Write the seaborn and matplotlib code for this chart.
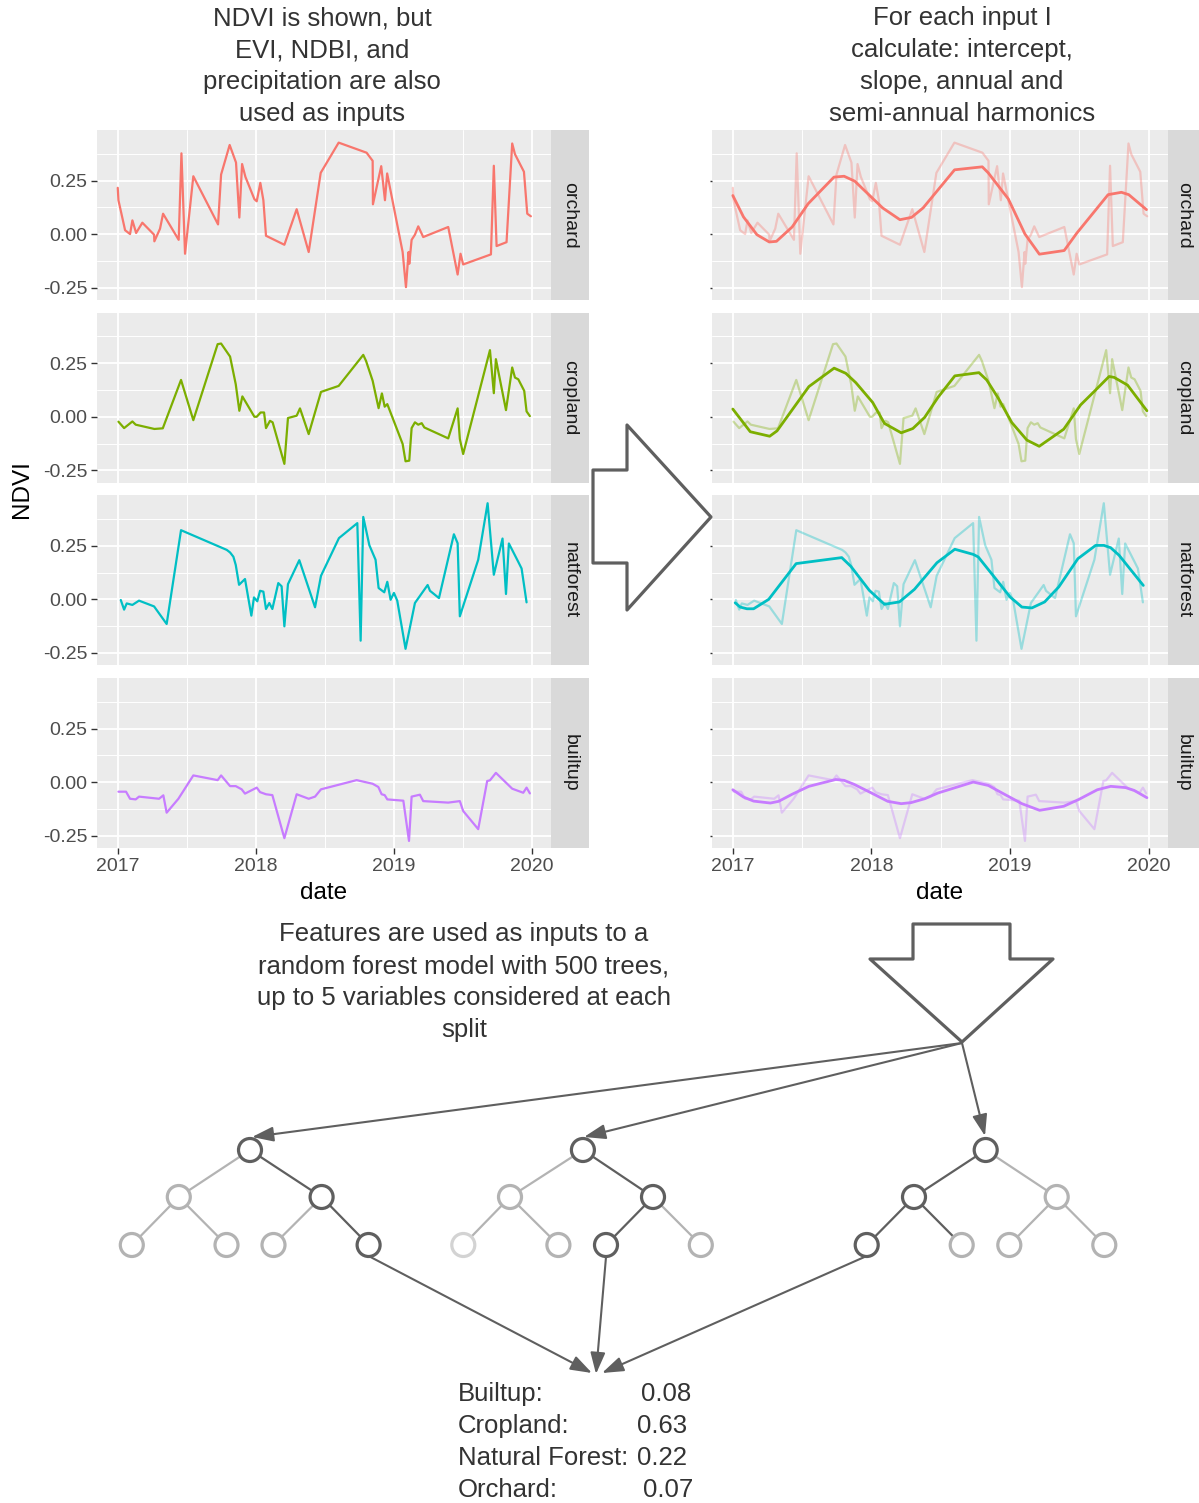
import numpy as np
import pandas as pd
import matplotlib
matplotlib.use("Agg")
import matplotlib.pyplot as plt
import seaborn as sns
from matplotlib.patches import Polygon, Circle, FancyArrowPatch
from matplotlib.lines import Line2D

# ---------------- data ----------------
classes = ["orchard", "cropland", "natforest", "builtup"]
class_colors = ["#F8766D", "#7CAE00", "#00BFC4", "#C77CFF"]

orchard_t = [2017.000, 2017.005, 2017.048, 2017.053, 2017.089, 2017.106, 2017.133, 2017.178, 2017.263, 2017.265,
             2017.306, 2017.328, 2017.441, 2017.461, 2017.487, 2017.547, 2017.726, 2017.748, 2017.810, 2017.856,
             2017.880, 2017.900, 2017.924, 2017.989, 2018.006, 2018.032, 2018.054, 2018.073, 2018.206, 2018.295,
             2018.382, 2018.469, 2018.599, 2018.801, 2018.845, 2018.847, 2018.907, 2018.934, 2018.950, 2019.062,
             2019.086, 2019.105, 2019.110, 2019.127, 2019.151, 2019.175, 2019.211, 2019.392, 2019.460, 2019.481,
             2019.500, 2019.701, 2019.722, 2019.742, 2019.814, 2019.855, 2019.875, 2019.940, 2019.964, 2019.990]
orchard_v = [0.216, 0.158, 0.033, 0.018, 0.000, 0.064, 0.005, 0.053, -0.003, -0.034,
             0.025, 0.095, -0.027, 0.377, -0.092, 0.270, 0.045, 0.278, 0.416, 0.334,
             0.077, 0.327, 0.267, 0.163, 0.153, 0.239, 0.158, -0.008, -0.050, 0.116,
             -0.084, 0.286, 0.427, 0.380, 0.342, 0.139, 0.317, 0.158, 0.283, -0.084,
             -0.248, -0.084, -0.139, -0.027, -0.003, 0.036, -0.014, 0.033, -0.189, -0.092,
             -0.142, -0.095, 0.319, -0.056, -0.038, 0.423, 0.373, 0.291, 0.095, 0.083]

cropland_t = [2017.005, 2017.046, 2017.106, 2017.130, 2017.265, 2017.326, 2017.458, 2017.547, 2017.723, 2017.748,
              2017.813, 2017.854, 2017.880, 2017.902, 2017.989, 2018.006, 2018.034, 2018.059, 2018.073, 2018.102,
              2018.121, 2018.206, 2018.232, 2018.295, 2018.319, 2018.382, 2018.471, 2018.599, 2018.777, 2018.797,
              2018.845, 2018.888, 2018.912, 2018.932, 2018.951, 2019.062, 2019.083, 2019.110, 2019.127, 2019.151,
              2019.175, 2019.200, 2019.219, 2019.392, 2019.460, 2019.476, 2019.500, 2019.694, 2019.722, 2019.737,
              2019.810, 2019.855, 2019.875, 2019.899, 2019.942, 2019.959, 2019.983]
cropland_v = [-0.023, -0.053, -0.022, -0.037, -0.057, -0.054, 0.172, -0.016, 0.339, 0.342,
              0.281, 0.152, 0.028, 0.095, 0.000, 0.000, 0.020, 0.020, -0.053, -0.019,
              -0.026, -0.220, -0.006, 0.005, 0.039, -0.081, 0.116, 0.144, 0.289, 0.261,
              0.168, 0.040, 0.109, 0.047, 0.059, -0.127, -0.208, -0.205, -0.053, -0.026,
              -0.037, -0.030, -0.050, -0.101, 0.039, -0.104, -0.174, 0.311, 0.110, 0.269,
              0.031, 0.230, 0.183, 0.175, 0.121, 0.025, 0.003]

natforest_t = [2017.022, 2017.046, 2017.065, 2017.106, 2017.154, 2017.263, 2017.354, 2017.458, 2017.789, 2017.813,
               2017.837, 2017.854, 2017.878, 2017.921, 2017.967, 2017.986, 2018.010, 2018.030, 2018.054, 2018.073,
               2018.097, 2018.119, 2018.162, 2018.186, 2018.206, 2018.232, 2018.314, 2018.428, 2018.471, 2018.601,
               2018.734, 2018.758, 2018.777, 2018.821, 2018.866, 2018.888, 2018.929, 2018.951, 2018.975, 2018.999,
               2019.023, 2019.083, 2019.151, 2019.243, 2019.260, 2019.325, 2019.433, 2019.460, 2019.476, 2019.609,
               2019.677, 2019.722, 2019.785, 2019.810, 2019.831, 2019.899, 2019.923, 2019.959]
natforest_v = [-0.003, -0.048, -0.019, -0.026, -0.006, -0.033, -0.115, 0.323, 0.231, 0.219,
               0.199, 0.161, 0.068, 0.095, -0.076, 0.009, -0.009, 0.040, 0.036, -0.045,
               -0.017, -0.045, 0.076, 0.061, -0.126, 0.071, 0.183, -0.037, 0.110, 0.286,
               0.356, -0.193, 0.385, 0.253, 0.185, 0.053, 0.033, 0.082, -0.002, 0.030,
               -0.006, -0.231, -0.017, 0.067, 0.040, 0.006, 0.304, 0.262, -0.079, 0.185,
               0.449, 0.115, 0.284, 0.025, 0.261, 0.175, 0.144, -0.014]

builtup_t = [2017.005, 2017.060, 2017.089, 2017.130, 2017.154, 2017.299, 2017.330, 2017.354, 2017.439, 2017.547,
             2017.723, 2017.748, 2017.813, 2017.854, 2017.897, 2017.921, 2018.006, 2018.030, 2018.073, 2018.119,
             2018.206, 2018.295, 2018.382, 2018.428, 2018.471, 2018.729, 2018.845, 2018.886, 2018.910, 2018.932,
             2018.951, 2019.067, 2019.108, 2019.127, 2019.187, 2019.211, 2019.392, 2019.476, 2019.500, 2019.609,
             2019.674, 2019.694, 2019.737, 2019.855, 2019.935, 2019.959, 2019.983]
builtup_v = [-0.045, -0.045, -0.078, -0.081, -0.068, -0.078, -0.062, -0.143, -0.078, 0.031,
             0.009, 0.031, -0.019, -0.019, -0.034, -0.054, -0.026, -0.047, -0.057, -0.061,
             -0.262, -0.057, -0.078, -0.068, -0.034, 0.009, -0.008, -0.023, -0.057, -0.061,
             -0.081, -0.087, -0.275, -0.068, -0.059, -0.089, -0.096, -0.089, -0.135, -0.220,
             0.005, 0.008, 0.043, -0.031, -0.050, -0.026, -0.053]

# harmonic fits
orchard_fit_t = [2017.000, 2017.077, 2017.174, 2017.263, 2017.315, 2017.428, 2017.544, 2017.730, 2017.803, 2017.880,
                 2018.081, 2018.206, 2018.290, 2018.373, 2018.600, 2018.800, 2018.843, 2018.988, 2019.108, 2019.212,
                 2019.391, 2019.483, 2019.708, 2019.804, 2019.857, 2019.985]
orchard_fit_v = [0.180, 0.080, -0.003, -0.037, -0.034, 0.033, 0.142, 0.266, 0.270, 0.247,
                 0.122, 0.067, 0.078, 0.122, 0.300, 0.314, 0.286, 0.164, 0.000, -0.094,
                 -0.077, 0.005, 0.184, 0.195, 0.184, 0.114]

cropland_fit_t = [2017.000, 2017.126, 2017.266, 2017.319, 2017.549, 2017.731, 2017.815, 2017.888, 2018.009, 2018.094,
                  2018.215, 2018.299, 2018.384, 2018.481, 2018.602, 2018.776, 2018.832, 2018.916, 2019.013, 2019.122,
                  2019.211, 2019.388, 2019.509, 2019.606, 2019.715, 2019.751, 2019.848, 2019.988]
cropland_fit_v = [0.036, -0.070, -0.091, -0.066, 0.141, 0.227, 0.203, 0.159, 0.067, -0.031,
                  -0.075, -0.055, -0.003, 0.091, 0.191, 0.206, 0.172, 0.086, -0.027, -0.109,
                  -0.138, -0.058, 0.055, 0.117, 0.188, 0.184, 0.148, 0.028]

natforest_fit_t = [2017.017, 2017.053, 2017.102, 2017.150, 2017.259, 2017.457, 2017.786, 2017.852, 2017.985, 2018.094,
                   2018.202, 2018.311, 2018.473, 2018.602, 2018.735, 2018.771, 2018.892, 2019.001, 2019.086, 2019.158,
                   2019.250, 2019.352, 2019.490, 2019.618, 2019.678, 2019.727, 2019.787, 2019.962]
natforest_fit_v = [-0.016, -0.036, -0.044, -0.044, 0.000, 0.167, 0.195, 0.154, 0.042, -0.023,
                   -0.012, 0.047, 0.171, 0.234, 0.210, 0.198, 0.100, 0.011, -0.036, -0.040,
                   -0.012, 0.058, 0.190, 0.252, 0.252, 0.241, 0.206, 0.065]

builtup_fit_t = [2017.000, 2017.077, 2017.150, 2017.271, 2017.331, 2017.428, 2017.549, 2017.743, 2017.803, 2017.876,
                 2017.997, 2018.118, 2018.215, 2018.287, 2018.384, 2018.481, 2018.735, 2018.844, 2018.940, 2019.086,
                 2019.214, 2019.388, 2019.497, 2019.630, 2019.727, 2019.835, 2019.896, 2019.988]
builtup_fit_v = [-0.036, -0.070, -0.089, -0.098, -0.090, -0.057, -0.020, 0.012, 0.008, -0.011,
                 -0.050, -0.090, -0.101, -0.096, -0.078, -0.051, 0.000, -0.016, -0.050, -0.101,
                 -0.132, -0.113, -0.081, -0.036, -0.020, -0.026, -0.039, -0.073]

year_ticks = [2017, 2018, 2019, 2020]
year_labels = ["2017", "2018", "2019", "2020"]
ndvi_ticks = [-0.25, 0.0, 0.25]
ndvi_labels = ["-0.25", "0.00", "0.25"]

title_left = "NDVI is shown, but\nEVI, NDBI, and\nprecipitation are also\nused as inputs"
title_right = "For each input I\ncalculate: intercept,\nslope, annual and\nsemi-annual harmonics"
rf_text = "Features are used as inputs to a\nrandom forest model with 500 trees,\nup to 5 variables considered at each\nsplit"
result_names = ["Builtup:", "Cropland:", "Natural Forest:", "Orchard:"]
result_values = ["0.08", "0.63", "0.22", "0.07"]

raw_df = pd.concat([
    pd.DataFrame({"date": orchard_t, "NDVI": orchard_v, "class": "orchard"}),
    pd.DataFrame({"date": cropland_t, "NDVI": cropland_v, "class": "cropland"}),
    pd.DataFrame({"date": natforest_t, "NDVI": natforest_v, "class": "natforest"}),
    pd.DataFrame({"date": builtup_t, "NDVI": builtup_v, "class": "builtup"}),
], ignore_index=True)
fit_df = pd.concat([
    pd.DataFrame({"date": orchard_fit_t, "NDVI": orchard_fit_v, "class": "orchard"}),
    pd.DataFrame({"date": cropland_fit_t, "NDVI": cropland_fit_v, "class": "cropland"}),
    pd.DataFrame({"date": natforest_fit_t, "NDVI": natforest_fit_v, "class": "natforest"}),
    pd.DataFrame({"date": builtup_fit_t, "NDVI": builtup_fit_v, "class": "builtup"}),
], ignore_index=True)

# ---------------- layout ----------------
sns.set_theme(style="white")
plt.rcParams["font.family"] = ["Liberation Sans", "DejaVu Sans"]

W, H = 1199, 1503
fig = plt.figure(figsize=(W / 100, H / 100), dpi=100)

def px_axes(x0, y0, x1, y1, **kw):
    return fig.add_axes([x0 / W, 1 - y1 / H, (x1 - x0) / W, (y1 - y0) / H], **kw)

row_tops = [130, 312.7, 495.3, 678]
row_h = 170
XLIM = (2016.852, 2020.138)
YLIM = (-0.308, 0.486)
TICK_SIZE = 14
TICK_COLOR = "#4D4D4D"

def style_panel(ax, bottom, left_labels):
    ax.set_facecolor("#EBEBEB")
    for s in ax.spines.values():
        s.set_visible(False)
    ax.set_xlim(*XLIM)
    ax.set_ylim(*YLIM)
    ax.set_xticks(year_ticks)
    ax.set_xticks([2017.5, 2018.5, 2019.5], minor=True)
    ax.set_yticks(ndvi_ticks)
    ax.set_yticks([-0.125, 0.125, 0.375], minor=True)
    ax.grid(True, which="major", color="white", linewidth=1.3)
    ax.grid(True, which="minor", color="white", linewidth=0.7)
    ax.set_axisbelow(True)
    ax.tick_params(which="minor", length=0)
    if bottom:
        ax.set_xticklabels(year_labels)
        ax.tick_params(axis="x", which="major", length=4.4, width=1.0, color="#333333",
                       labelsize=TICK_SIZE, labelcolor=TICK_COLOR, pad=2.5, bottom=True)
    else:
        ax.set_xticklabels([])
        ax.tick_params(axis="x", which="major", length=0)
    if left_labels:
        ax.set_yticklabels(ndvi_labels)
        ax.tick_params(axis="y", which="major", length=4.4, width=1.0, color="#333333",
                       labelsize=TICK_SIZE, labelcolor=TICK_COLOR, pad=2.5, left=True)
    else:
        ax.set_yticklabels([])
        ax.tick_params(axis="y", which="major", length=1.2, width=1.0, color="#333333", left=True)
    ax.set_xlabel("")
    ax.set_ylabel("")
    if ax.get_legend() is not None:
        ax.get_legend().remove()

def strip(x0, x1, y0, label):
    sa = px_axes(x0, y0, x1, y0 + row_h)
    sa.set_facecolor("#D9D9D9")
    for s in sa.spines.values():
        s.set_visible(False)
    sa.set_xticks([]); sa.set_yticks([])
    sa.text(0.5, 0.5, label, rotation=-90, ha="center", va="center", fontsize=TICK_SIZE,
            color="#1A1A1A", transform=sa.transAxes)

LX0, LX1 = 97.3, 551.3
RX0, RX1 = 712.3, 1167.7

for i, cls in enumerate(classes):
    top = row_tops[i]
    col = class_colors[i]
    bottom = i == len(classes) - 1
    # left: raw series
    axl = px_axes(LX0, top, LX1, top + row_h)
    sub = raw_df[raw_df["class"] == cls]
    sns.lineplot(data=sub, x="date", y="NDVI", ax=axl, color=col, linewidth=1.6,
                 estimator=None, sort=False)
    style_panel(axl, bottom, True)
    strip(LX1, 588.5, top, cls)
    # right: raw (faded) + harmonic fit
    axr = px_axes(RX0, top, RX1, top + row_h)
    sns.lineplot(data=sub, x="date", y="NDVI", ax=axr, color=col, linewidth=1.6, alpha=0.35,
                 estimator=None, sort=False)
    subf = fit_df[fit_df["class"] == cls]
    sns.lineplot(data=subf, x="date", y="NDVI", ax=axr, color=col, linewidth=2.0,
                 estimator=None, sort=False)
    style_panel(axr, bottom, False)
    strip(RX1, 1199.5, top, cls)

# ---------------- overlay (annotations / diagram) ----------------
ov = fig.add_axes([0, 0, 1, 1], zorder=5)
ov.set_xlim(0, W)
ov.set_ylim(H, 0)
ov.axis("off")
ov.patch.set_alpha(0)

TXT = "#333333"
ov.text(22, 489, "NDVI", rotation=90, ha="center", va="center", fontsize=17.5, color="black")
ov.text(324, 893, "date", ha="center", va="center", fontsize=17.5, color="black")
ov.text(940, 893, "date", ha="center", va="center", fontsize=17.5, color="black")

LS = 1.41
ov.text(322, 66, title_left, ha="center", va="center", fontsize=18.5, color=TXT, linespacing=LS)
ov.text(962, 66, title_right, ha="center", va="center", fontsize=18.5, color=TXT, linespacing=LS)
ov.text(464, 982, rf_text, ha="center", va="center", fontsize=18.5, color=TXT, linespacing=LS)

res_y = [1394, 1426, 1458, 1490]
res_vx = [641, 637, 637, 643]
for name, val, y, vx in zip(result_names, result_values, res_y, res_vx):
    ov.text(458, y, name, ha="left", va="center", fontsize=18.5, color=TXT)
    ov.text(vx, y, val, ha="left", va="center", fontsize=18.5, color=TXT)

DARK = "#5F5F5F"
LIGHT = "#B3B3B3"
LIGHTER = "#D3D3D3"

# big right arrow
right_arrow = [(593, 470), (627, 470), (627, 425), (711, 517), (627, 610), (627, 563), (593, 563)]
ov.add_patch(Polygon(right_arrow, closed=True, facecolor="white", edgecolor=DARK,
                     linewidth=2.3, joinstyle="round"))
# big down arrow
down_arrow = [(913, 924), (1010, 924), (1010, 959), (1053, 959), (962, 1042), (870, 959), (913, 959)]
ov.add_patch(Polygon(down_arrow, closed=True, facecolor="white", edgecolor=DARK,
                     linewidth=2.3, joinstyle="round"))

def arrow(p0, p1):
    ov.add_patch(FancyArrowPatch(p0, p1, arrowstyle="-|>,head_length=1.3,head_width=0.45",
                                 mutation_scale=10, color=DARK, linewidth=1.5,
                                 shrinkA=0, shrinkB=0))

tip = (962, 1043)
arrow(tip, (252, 1137))
arrow(tip, (584, 1137))
arrow(tip, (985, 1136))

# trees: nodes and edges
R = 11.5
trees = [
    dict(root=(250, 1150), l2=[(178.8, 1197), (321.6, 1197)], l3=[131.8, 226.5, 273.5, 368.6],
         node_col=[DARK, LIGHT, DARK, LIGHT, LIGHT, LIGHT, DARK],
         edge_col=[LIGHT, DARK, LIGHT, LIGHT, LIGHT, DARK]),
    dict(root=(582.9, 1150), l2=[(510, 1197), (653, 1197)], l3=[463.3, 558.4, 606, 700.8],
         node_col=[DARK, LIGHT, DARK, LIGHTER, LIGHT, DARK, LIGHT],
         edge_col=[LIGHT, DARK, LIGHT, LIGHT, DARK, LIGHT]),
    dict(root=(985.7, 1150), l2=[(914, 1197), (1056.7, 1197)], l3=[866.7, 961.7, 1009.3, 1104.3],
         node_col=[DARK, DARK, LIGHT, DARK, LIGHT, LIGHT, LIGHT],
         edge_col=[DARK, LIGHT, DARK, DARK, LIGHT, LIGHT]),
]
Y3 = 1245
for t in trees:
    rt = t["root"]
    nodes = [rt, t["l2"][0], t["l2"][1]] + [(x, Y3) for x in t["l3"]]
    edges = [(0, 1), (0, 2), (1, 3), (1, 4), (2, 5), (2, 6)]
    for (a, b), ec in zip(edges, t["edge_col"]):
        ov.add_line(Line2D([nodes[a][0], nodes[b][0]], [nodes[a][1], nodes[b][1]],
                           color=ec, linewidth=1.6, zorder=2))
    for (x, y), nc in zip(nodes, t["node_col"]):
        ov.add_patch(Circle((x, y), R, facecolor="white", edgecolor=nc, linewidth=2.3, zorder=3))

# arrows from chosen leaves to the result
arrow((368.6, 1256), (592, 1373))
arrow((606, 1257), (596, 1374))
arrow((866.7, 1256), (602, 1373))

fig.savefig("out.png", dpi=100)
